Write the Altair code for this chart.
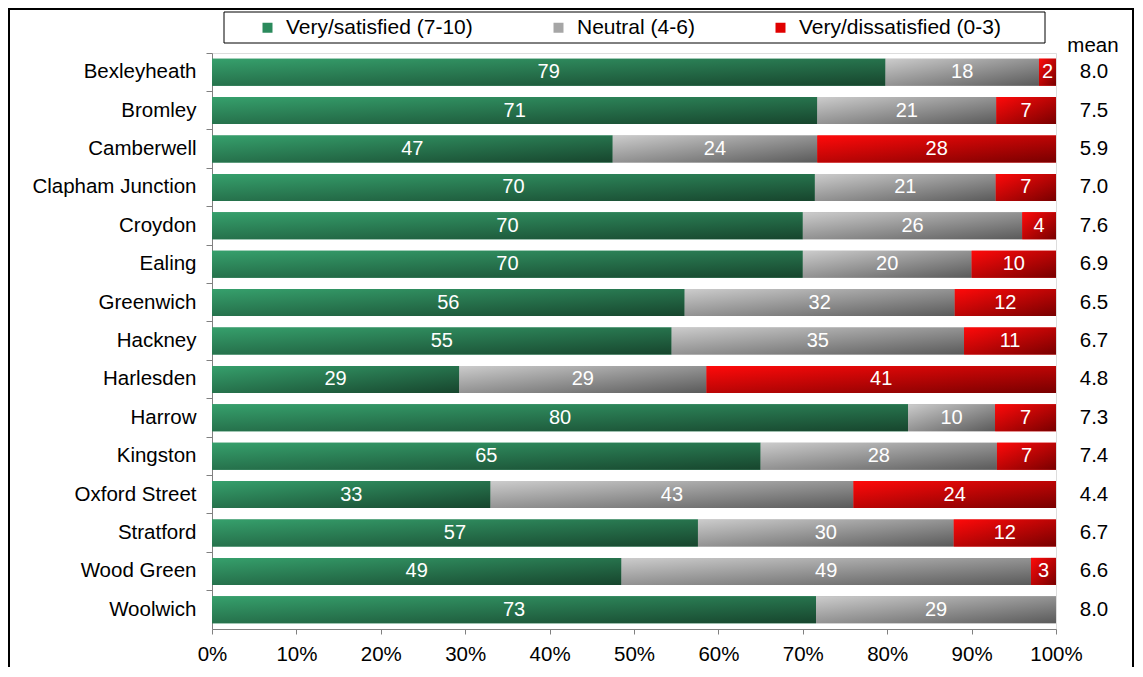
import altair as alt
import pandas as pd

branches = ["Bexleyheath", "Bromley", "Camberwell", "Clapham Junction", "Croydon",
            "Ealing", "Greenwich", "Hackney", "Harlesden", "Harrow", "Kingston",
            "Oxford Street", "Stratford", "Wood Green", "Woolwich"]
satisfied = [79, 71, 47, 70, 70, 70, 56, 55, 29, 80, 65, 33, 57, 49, 73]
neutral = [18, 21, 24, 21, 26, 20, 32, 35, 29, 10, 28, 43, 30, 49, 29]
dissatisfied = [2, 7, 28, 7, 4, 10, 12, 11, 41, 7, 7, 24, 12, 3, 0]
means = [8.0, 7.5, 5.9, 7.0, 7.6, 6.9, 6.5, 6.7, 4.8, 7.3, 7.4, 4.4, 6.7, 6.6, 8.0]
categories = ["Very/satisfied (7-10)", "Neutral (4-6)", "Very/dissatisfied (0-3)"]
legend_colors = ["#2b8a5c", "#a6a6a6", "#e00000"]
x_ticks = [0, 0.1, 0.2, 0.3, 0.4, 0.5, 0.6, 0.7, 0.8, 0.9, 1.0]

rows = []
for i, b in enumerate(branches):
    for k, vals in enumerate([satisfied, neutral, dissatisfied]):
        rows.append({"branch": b, "category": categories[k], "order": k, "value": vals[i]})
df = pd.DataFrame(rows)
mean_df = pd.DataFrame({"branch": branches, "mean": means})
one = pd.DataFrame({"label": ["mean"]})

FONT = "Liberation Sans"
W, H = 844, 576
BAR = 27

def grad(c0, c1):
    return alt.Gradient(gradient="linear",
                        stops=[alt.GradientStop(offset=0, color=c0),
                               alt.GradientStop(offset=1, color=c1)],
                        x1=0, y1=0, x2=1, y2=1)

gradients = [grad("#36a06c", "#17452d"), grad("#cccccc", "#5a5a5a"), grad("#ff0a0a", "#780000")]

yscale = alt.Scale(paddingInner=0, paddingOuter=0)
xscale = alt.Scale(domain=[0, 1], nice=False)

y_axis = alt.Axis(bandPosition=0, tickSize=6, tickColor="#808080",
                  domainColor="#808080", labelFontSize=20.5, labelFont=FONT,
                  labelColor="black", labelPadding=10, grid=False, labelLimit=300)
x_axis = alt.Axis(values=x_ticks, format="%", tickSize=5, tickColor="#808080",
                  domainColor="#808080", labelFontSize=20.5, labelFont=FONT,
                  labelColor="black", labelPadding=10, grid=False, labelFlush=False)

def Y():
    return alt.Y("branch:N", sort=branches, scale=yscale, title=None, axis=y_axis)

def X(field):
    return alt.X(field, scale=xscale, title=None, axis=x_axis)

base = alt.Chart(df).transform_stack(
    stack="value", groupby=["branch"], as_=["x0", "x1"], offset="normalize",
    sort=[alt.SortField("order", "ascending")]
)

solid = base.mark_bar(size=BAR).encode(
    x=X("x0:Q"), x2="x1:Q", y=Y(),
    color=alt.Color("category:N",
                    scale=alt.Scale(domain=categories, range=legend_colors),
                    legend=alt.Legend(orient="none", legendX=45, legendY=-36,
                                      direction="horizontal", title=None,
                                      labelFontSize=21, labelFont=FONT, labelColor="black",
                                      labelLimit=400,
                                      symbolType="square", symbolSize=100,
                                      symbolStrokeWidth=0, labelOffset=8,
                                      columnPadding=75, padding=0))
)

grad_layers = []
for k in range(3):
    grad_layers.append(
        base.transform_filter(alt.datum.order == k).mark_bar(size=BAR, color=gradients[k]).encode(
            x=X("x0:Q"), x2="x1:Q", y=Y())
    )

labels = base.transform_filter(alt.datum.value > 0).transform_calculate(
    mid="(datum.x0 + datum.x1) / 2"
).mark_text(color="white", fontSize=20, font=FONT).encode(
    x=X("mid:Q"), y=Y(), text="value:Q")

mean_text = alt.Chart(mean_df).mark_text(fontSize=20.5, font=FONT, color="black").encode(
    x=alt.value(W + 38), y=Y(), text=alt.Text("mean:Q", format=".1f"))

mean_header = alt.Chart(one).mark_text(fontSize=20.5, font=FONT, color="black").encode(
    x=alt.value(W + 37), y=alt.value(-7), text="label:N")

legend_box = alt.Chart(one).mark_rect(fillOpacity=0, stroke="black", strokeWidth=1).encode(
    x=alt.value(12), x2=alt.value(833), y=alt.value(-41), y2=alt.value(-10))

frame = alt.Chart(one).mark_rect(fillOpacity=0, stroke="black", strokeWidth=2).encode(
    x=alt.value(-203), x2=alt.value(921), y=alt.value(-44), y2=alt.value(700))

chart = alt.layer(solid, *grad_layers, labels, mean_text, mean_header, legend_box, frame).properties(
    width=W, height=H,
    padding={"left": 204, "top": 45, "right": 79, "bottom": 38},
    autosize=alt.AutoSizeParams(type="none"),
).configure_view(strokeWidth=0).configure(font=FONT)

chart.save("out.html", embed_options={"renderer": "svg", "actions": False})
